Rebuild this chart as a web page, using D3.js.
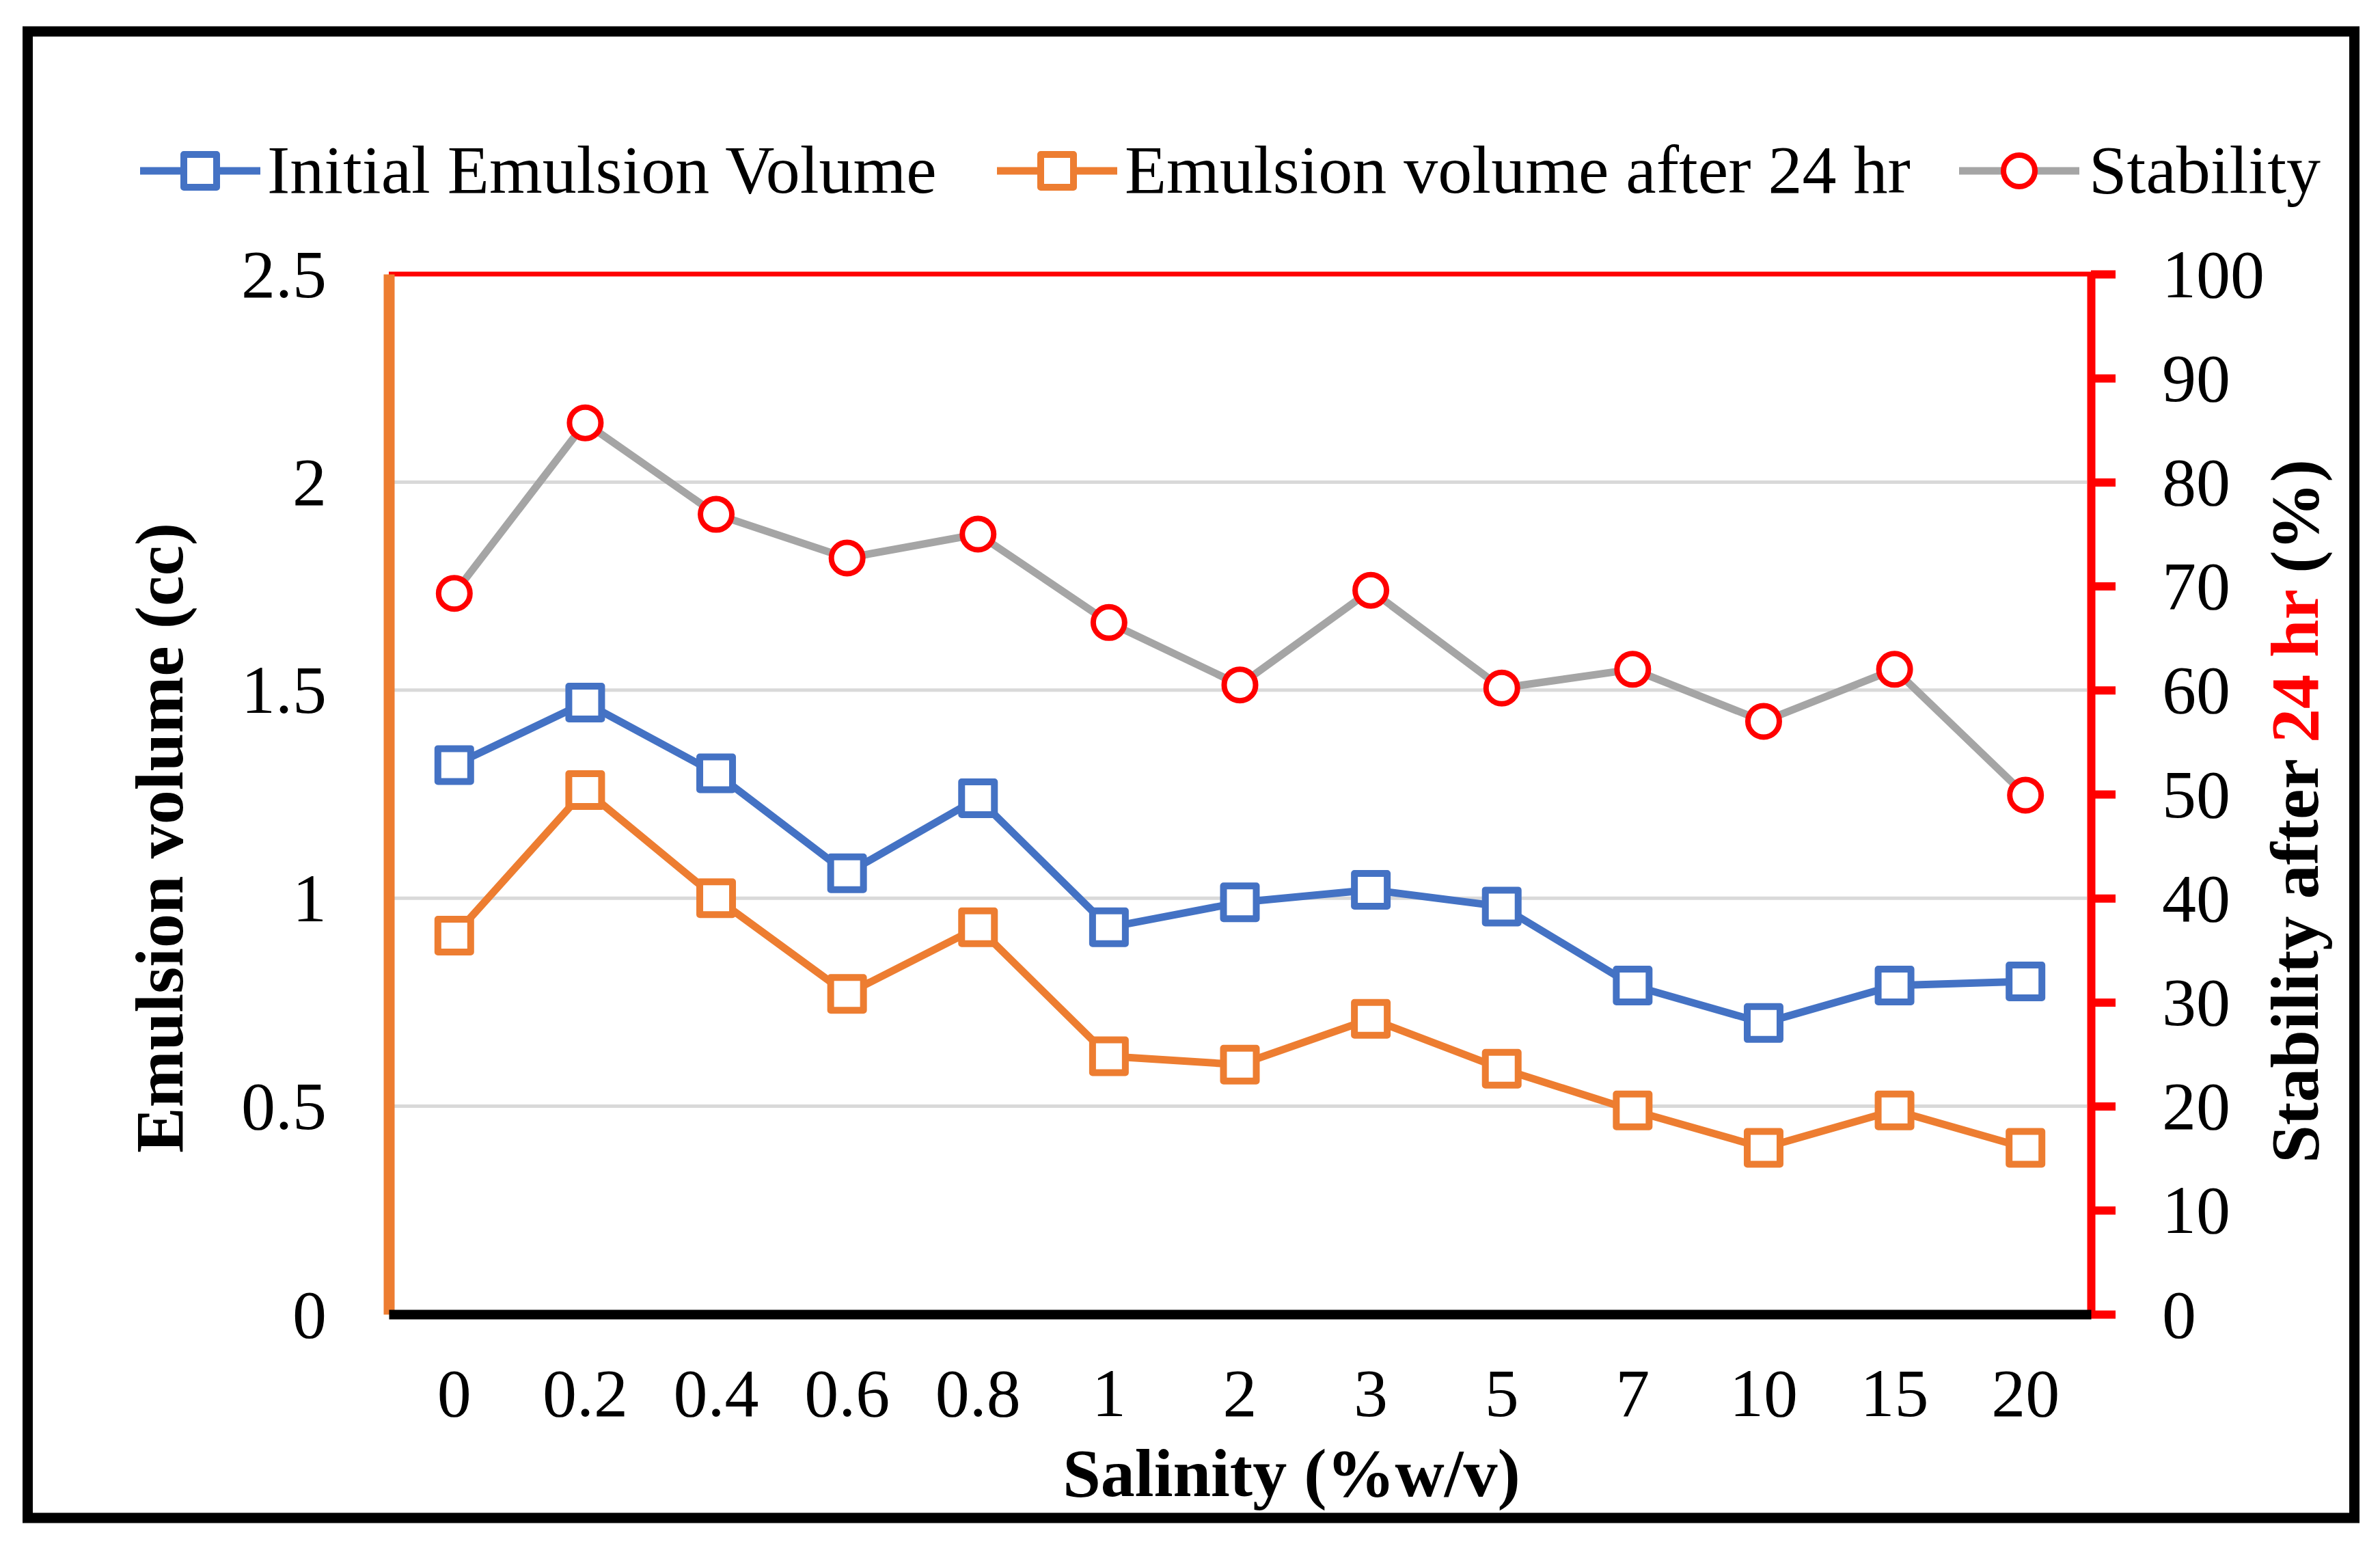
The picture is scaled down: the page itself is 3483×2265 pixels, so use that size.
<!DOCTYPE html>
<html>
<head>
<meta charset="utf-8">
<script src="https://d3js.org/d3.v7.min.js"></script>
<style>
  html, body { margin: 0; padding: 0; background: #ffffff; }
  svg { display: block; }
  text { font-family: "Liberation Serif", "Times New Roman", serif; fill: #000; }
</style>
</head>
<body>
<svg id="chart" width="3483" height="2265"></svg>
<script>
// ---- Data ----
const categories = ["0", "0.2", "0.4", "0.6", "0.8", "1", "2", "3", "5", "7", "10", "15", "20"];
const initialVolume = [1.32, 1.47, 1.30, 1.06, 1.24, 0.93, 0.99, 1.02, 0.98, 0.79, 0.70, 0.79, 0.80];
const volumeAfter24 = [0.91, 1.26, 1.00, 0.77, 0.93, 0.62, 0.60, 0.71, 0.59, 0.49, 0.40, 0.49, 0.40];
const stability = [69.3, 85.7, 76.9, 72.7, 75.0, 66.5, 60.5, 69.6, 60.2, 62.0, 57.0, 62.0, 49.9];
const leftTicks = [0, 0.5, 1, 1.5, 2, 2.5];
const leftTickLabels = ["0", "0.5", "1", "1.5", "2", "2.5"];
const rightTicks = [0, 10, 20, 30, 40, 50, 60, 70, 80, 90, 100];
const legendLabels = ["Initial Emulsion Volume", "Emulsion volume after 24 hr", "Stability"];

const BLUE = "#4472C4", ORANGE = "#ED7D31", GRAY = "#A5A5A5", RED = "#FF0000";

const svg = d3.select("#chart");
const W = 3483, H = 2265;

// outer frame
svg.append("rect").attr("x", 40.5).attr("y", 46).attr("width", 3405).attr("height", 2175)
  .attr("fill", "none").attr("stroke", "#000").attr("stroke-width", 15);

const plot = { left: 569, right: 3060, top: 401, bottom: 1923 };

const x = d3.scaleBand().domain(categories).range([plot.left, plot.right]).padding(0);
const xc = c => x(c) + x.bandwidth() / 2;
const yL = d3.scaleLinear().domain([0, 2.5]).range([plot.bottom, plot.top]);
const yR = d3.scaleLinear().domain([0, 100]).range([plot.bottom, plot.top]);

// gridlines
svg.append("g").selectAll("line").data(leftTicks.filter(t => t > 0 && t < 2.5)).join("line")
  .attr("x1", plot.left + 8).attr("x2", plot.right - 6)
  .attr("y1", d => yL(d)).attr("y2", d => yL(d))
  .attr("stroke", "#d9d9d9").attr("stroke-width", 5);

// top red border
svg.append("line").attr("x1", plot.left).attr("x2", plot.right + 6)
  .attr("y1", plot.top).attr("y2", plot.top).attr("stroke", RED).attr("stroke-width", 7);

// left axis (orange)
const leftAxis = d3.axisLeft(yL).tickValues(leftTicks).tickSize(0).tickFormat((d, i) => leftTickLabels[i]);
const gL = svg.append("g").attr("transform", `translate(${plot.left},0)`).call(leftAxis);
gL.select(".domain").attr("stroke", ORANGE).attr("stroke-width", 16);
gL.selectAll("text").attr("x", -91).attr("dy", "0.33em").style("font-size", "100px")
  .style("font-family", '"Liberation Serif", "Times New Roman", serif');

// right axis (red)
const rightAxis = d3.axisRight(yR).tickValues(rightTicks).tickSizeInner(36).tickSizeOuter(0).tickPadding(0);
const gR = svg.append("g").attr("transform", `translate(${plot.right},0)`).call(rightAxis);
gR.select(".domain").attr("stroke", RED).attr("stroke-width", 12);
gR.selectAll(".tick line").attr("stroke", RED).attr("stroke-width", 12);
gR.selectAll("text").attr("x", 104).attr("dy", "0.33em").style("font-size", "100px")
  .style("font-family", '"Liberation Serif", "Times New Roman", serif');

// bottom axis (black)
const bottomAxis = d3.axisBottom(x).tickSize(0).tickPadding(0);
const gB = svg.append("g").attr("transform", `translate(0,${plot.bottom})`).call(bottomAxis);
gB.select(".domain").attr("stroke", "#000").attr("stroke-width", 14);
gB.selectAll("text").attr("y", 149).attr("dy", 0).style("font-size", "100px")
  .style("font-family", '"Liberation Serif", "Times New Roman", serif');

// series lines
function drawLine(values, yScale, color) {
  const line = d3.line().x((d, i) => xc(categories[i])).y(d => yScale(d));
  svg.append("path").datum(values).attr("d", line).attr("fill", "none")
    .attr("stroke", color).attr("stroke-width", 11).attr("stroke-linejoin", "round");
}
function drawSquares(values, yScale, color) {
  svg.append("g").selectAll("rect").data(values).join("rect")
    .attr("x", (d, i) => xc(categories[i]) - 24).attr("y", d => yScale(d) - 24)
    .attr("width", 48).attr("height", 48)
    .attr("fill", "#fff").attr("stroke", color).attr("stroke-width", 10).attr("stroke-linejoin", "round");
}
function drawCircles(values, yScale) {
  svg.append("g").selectAll("circle").data(values).join("circle")
    .attr("cx", (d, i) => xc(categories[i])).attr("cy", d => yScale(d)).attr("r", 23)
    .attr("fill", "#fff").attr("stroke", RED).attr("stroke-width", 8);
}
drawLine(initialVolume, yL, BLUE);
drawSquares(initialVolume, yL, BLUE);
drawLine(volumeAfter24, yL, ORANGE);
drawSquares(volumeAfter24, yL, ORANGE);
drawLine(stability, yR, GRAY);
drawCircles(stability, yR);

// axis titles
svg.append("text").attr("transform", "translate(267,1226) rotate(-90)")
  .attr("text-anchor", "middle").style("font-size", "100px").style("font-weight", "bold")
  .text("Emulsion volume (cc)");

const rt = svg.append("text").attr("transform", "translate(3392,1187) rotate(-90)")
  .attr("text-anchor", "middle").style("font-size", "100px").style("font-weight", "bold");
rt.append("tspan").text("Stability after ");
rt.append("tspan").style("fill", RED).text("24 hr");
rt.append("tspan").text(" (%)");

svg.append("text").attr("x", 1890).attr("y", 2189).attr("text-anchor", "middle")
  .style("font-size", "100px").style("font-weight", "bold").text("Salinity (%w/v)");

// legend
const legendItems = [
  { cx: 293, tx: 391, color: BLUE, marker: "square" },
  { cx: 1547, tx: 1646, color: ORANGE, marker: "square" },
  { cx: 2955, tx: 3057, color: GRAY, marker: "circle" }
];
const ly = 250;
legendItems.forEach((it, i) => {
  svg.append("line").attr("x1", it.cx - 88).attr("x2", it.cx + 88).attr("y1", ly).attr("y2", ly)
    .attr("stroke", it.color).attr("stroke-width", 11);
  if (it.marker === "square") {
    svg.append("rect").attr("x", it.cx - 24).attr("y", ly - 24).attr("width", 48).attr("height", 48)
      .attr("fill", "#fff").attr("stroke", it.color).attr("stroke-width", 10).attr("stroke-linejoin", "round");
  } else {
    svg.append("circle").attr("cx", it.cx).attr("cy", ly).attr("r", 23)
      .attr("fill", "#fff").attr("stroke", RED).attr("stroke-width", 8);
  }
  svg.append("text").attr("x", it.tx).attr("y", ly + 32).style("font-size", "100px").text(legendLabels[i]);
});
</script>
</body>
</html>
